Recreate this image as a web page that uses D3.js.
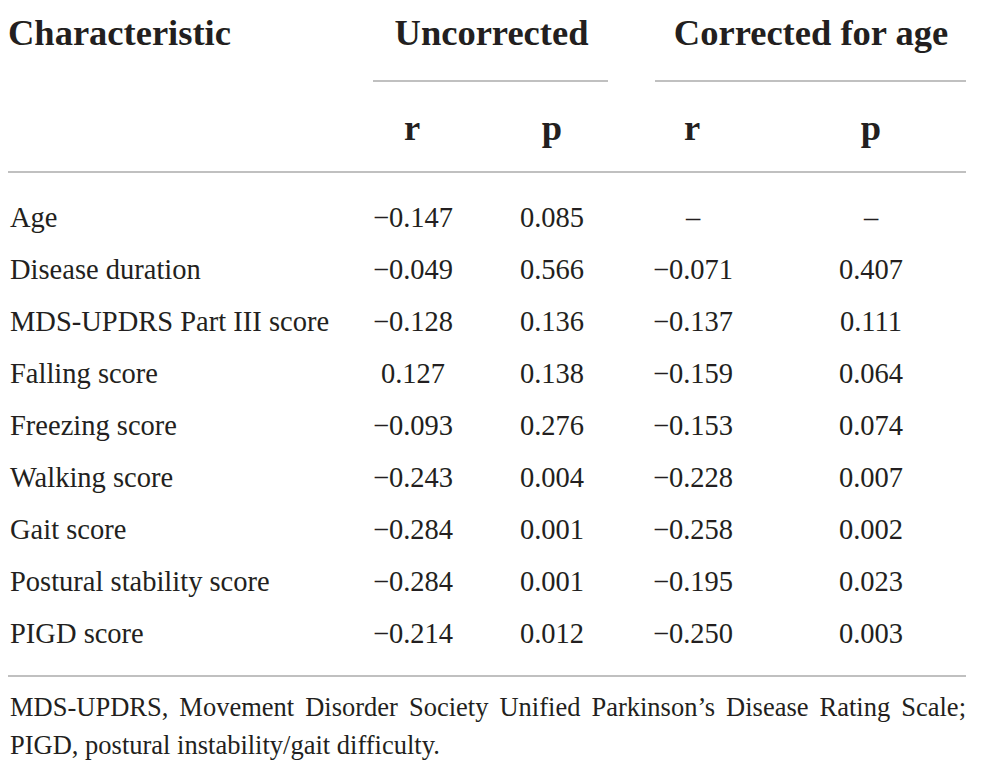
<!DOCTYPE html>
<html><head><meta charset="utf-8">
<script src="https://cdn.jsdelivr.net/npm/d3@7"></script>
<style>
html,body{margin:0;padding:0;background:#fff;}
svg{display:block;}
text{font-family:"Liberation Serif","Times New Roman",serif;fill:#231f20;}
</style></head>
<body>
<svg id="chart" width="981" height="775"></svg>
<script>
const characteristics = ["Age","Disease duration","MDS-UPDRS Part III score","Falling score","Freezing score","Walking score","Gait score","Postural stability score","PIGD score"];
const uncorrectedR = ["\u22120.147","\u22120.049","\u22120.128","0.127","\u22120.093","\u22120.243","\u22120.284","\u22120.284","\u22120.214"];
const uncorrectedP = ["0.085","0.566","0.136","0.138","0.276","0.004","0.001","0.001","0.012"];
const correctedR = ["\u2013","\u22120.071","\u22120.137","\u22120.159","\u22120.153","\u22120.228","\u22120.258","\u22120.195","\u22120.250"];
const correctedP = ["\u2013","0.407","0.111","0.064","0.074","0.007","0.002","0.023","0.003"];
const groupHeaders = ["Uncorrected","Corrected for age"];
const subHeaders = ["r","p","r","p"];
const firstHeader = "Characteristic";
const footnoteLines = ["MDS-UPDRS, Movement Disorder Society Unified Parkinson\u2019s Disease Rating Scale;","PIGD, postural instability/gait difficulty."];

const svg = d3.select("#chart");
const columns = ["ur","up","cr","cp"];
const colData = {ur:uncorrectedR, up:uncorrectedP, cr:correctedR, cp:correctedP};
const x = d3.scaleOrdinal().domain(columns).range([413,552,693,871]);
const y = d3.scalePoint().domain(characteristics).range([227,643]);
const lineColor = "#ababab";
const left = 8, right = 966;
const headSize = 36.5, bodySize = 28.5, noteSize = 26.5;

// header
svg.append("text").attr("x",left).attr("y",45).attr("font-size",headSize).attr("font-weight","bold").text(firstHeader);
const groupSpan = [[373,608],[655,966]];
svg.selectAll("text.grp").data(groupHeaders).join("text").attr("class","grp")
  .attr("x",(d,i)=>i===0?491.5:811).attr("y",45)
  .attr("text-anchor","middle").attr("font-size",headSize).attr("font-weight","bold").text(d=>d);
svg.selectAll("line.grp").data(groupSpan).join("line").attr("class","grp")
  .attr("x1",d=>d[0]).attr("x2",d=>d[1]).attr("y1",81).attr("y2",81)
  .attr("stroke",lineColor).attr("stroke-width",1.4);
svg.selectAll("text.sub").data(subHeaders).join("text").attr("class","sub")
  .attr("x",(d,i)=>x(columns[i])-(i%2===0?1:0)).attr("y",140).attr("text-anchor","middle")
  .attr("font-size",headSize).attr("font-weight","bold").text(d=>d);
svg.append("line").attr("x1",left).attr("x2",right).attr("y1",172).attr("y2",172).attr("stroke",lineColor).attr("stroke-width",1.4);

// body
const rows = svg.selectAll("g.row").data(characteristics).join("g").attr("class","row")
  .attr("transform",d=>`translate(0,${y(d)})`);
rows.append("text").attr("x",left+2).attr("font-size",bodySize).text(d=>d);
columns.forEach(c=>{
  rows.append("text").attr("x",x(c)).attr("text-anchor","middle").attr("font-size",bodySize)
    .text((d,i)=>colData[c][i]);
});

svg.append("line").attr("x1",left).attr("x2",right).attr("y1",676).attr("y2",676).attr("stroke",lineColor).attr("stroke-width",1.4);

// footnote (first line justified by word spacing)
const n1 = svg.append("text").attr("x",left+2).attr("y",716).attr("font-size",noteSize).text(footnoteLines[0]);
const natural = n1.node().getComputedTextLength();
const spaces = (footnoteLines[0].match(/ /g)||[]).length;
const target = right - left - 2;
if (spaces > 0 && natural < target) n1.attr("word-spacing", (target - natural) / spaces);
svg.append("text").attr("x",left+2).attr("y",754).attr("font-size",noteSize).text(footnoteLines[1]);
</script>
</body></html>
